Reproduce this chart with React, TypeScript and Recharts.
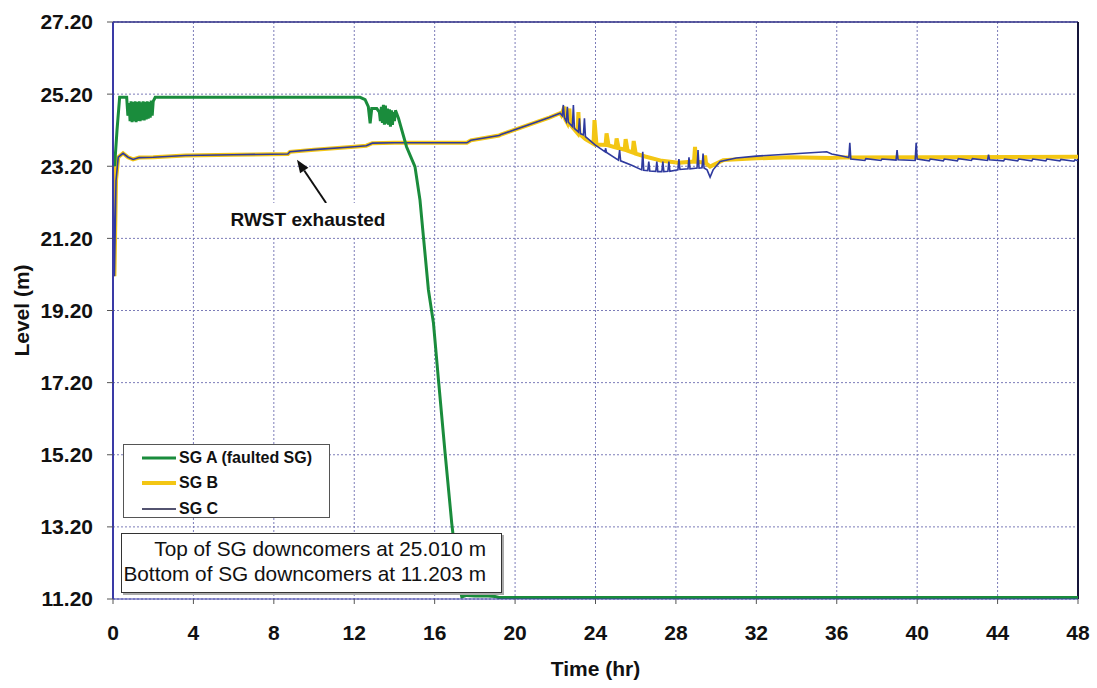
import React from 'react';
import {
  LineChart,
  Line,
  XAxis,
  YAxis,
  CartesianGrid,
  ReferenceLine,
  Legend,
  Label
} from 'recharts';

type Pt = [number, number]; // [time (hr), level (m)]

const timeTicks = [0, 4, 8, 12, 16, 20, 24, 28, 32, 36, 40, 44, 48];
const levelTicks = [11.2, 13.2, 15.2, 17.2, 19.2, 21.2, 23.2, 25.2, 27.2];

// SG A - faulted generator, boils dry after ~14 hr
const sgA: Pt[] = [
  [0, 23.55], [0.08, 23.2], [0.2, 24.2], [0.33, 25.11], [0.68, 25.11], [0.74, 24.6],
  [0.8, 24.95], [0.85, 24.45], [0.9, 25.0], [0.95, 24.42], [1.0, 24.98], [1.05, 24.45],
  [1.1, 25.0], [1.15, 24.42], [1.2, 24.98], [1.25, 24.46], [1.3, 25.0], [1.35, 24.45],
  [1.4, 24.97], [1.45, 24.48], [1.5, 25.0], [1.55, 24.47], [1.6, 24.98], [1.65, 24.5],
  [1.7, 25.0], [1.75, 24.52], [1.8, 24.98], [1.85, 24.55], [1.9, 25.02], [1.95, 24.6],
  [2.0, 25.0], [2.1, 25.11], [12.29, 25.11], [12.54, 25.05], [12.7, 24.85], [12.79, 24.39],
  [12.87, 24.8], [13.12, 24.8], [13.25, 24.7], [13.3, 24.45], [13.35, 24.85], [13.4, 24.4],
  [13.45, 24.9], [13.5, 24.35], [13.55, 24.88], [13.6, 24.38], [13.65, 24.8], [13.7, 24.35],
  [13.75, 24.78], [13.8, 24.3], [13.85, 24.75], [13.9, 24.35], [13.95, 24.7], [14.0, 24.45],
  [14.05, 24.75], [14.2, 24.53], [14.6, 23.74], [15.02, 23.19], [15.27, 22.26], [15.44, 21.25],
  [15.69, 19.77], [15.94, 18.85], [16.19, 17.27], [16.52, 15.24], [16.85, 13.3], [17.18, 11.68],
  [17.35, 11.26], [17.6, 11.3], [18.0, 11.28], [18.5, 11.29], [19.0, 11.27], [19.2, 11.24],
  [48, 11.24]
];

// SG B and SG C track together until the level swing at ~22 hr
const sgStartup: Pt[] = [
  [0, 23.6], [0.07, 20.15], [0.15, 22.8], [0.26, 23.45], [0.5, 23.56], [0.75, 23.45],
  [1.0, 23.39], [1.3, 23.44], [2.0, 23.45], [3.6, 23.5], [6.0, 23.52], [8.7, 23.54],
  [8.8, 23.6], [10.0, 23.66], [12.0, 23.74], [12.6, 23.77], [12.9, 23.84], [14.0, 23.85],
  [17.6, 23.85], [17.8, 23.92], [19.2, 24.05], [19.3, 24.08], [21.7, 24.55], [22.24, 24.67]
];

const sgBTail: Pt[] = [
  [22.3, 24.62], [22.45, 24.85], [22.5, 24.5], [22.6, 24.4], [22.7, 24.8], [22.75, 24.35],
  [23.1, 24.12], [23.15, 24.7], [23.2, 24.1], [23.5, 23.95], [23.9, 23.82], [23.95, 24.48],
  [24.05, 23.8], [24.5, 23.79], [24.55, 24.11], [24.65, 23.78], [25.0, 23.72], [25.05, 23.97],
  [25.15, 23.7], [25.45, 23.66], [25.5, 23.95], [25.6, 23.63], [25.85, 23.58], [25.9, 23.9],
  [26.0, 23.55], [26.47, 23.47], [27.3, 23.35], [28.13, 23.3], [28.9, 23.33], [28.95, 23.74],
  [29.0, 23.33], [29.4, 23.3], [29.45, 23.5], [29.5, 23.28], [29.7, 23.19], [30.35, 23.37],
  [32.0, 23.42], [33.7, 23.45], [35.7, 23.43], [36.2, 23.44], [48, 23.46]
];

const sgCTail: Pt[] = [
  [22.35, 24.6], [22.4, 24.9], [22.45, 24.55], [22.55, 24.44], [22.6, 24.85], [22.65, 24.42],
  [22.85, 24.3], [22.9, 24.9], [22.95, 24.25], [23.15, 24.15], [23.2, 24.53], [23.25, 24.1],
  [23.4, 24.07], [23.45, 24.53], [23.5, 24.02], [23.98, 23.79], [24.48, 23.6], [24.5, 23.7],
  [24.55, 23.58], [25.14, 23.37], [25.2, 23.65], [25.25, 23.35], [25.8, 23.23], [26.3, 23.1],
  [26.35, 23.6], [26.4, 23.09], [26.6, 23.08], [26.65, 23.33], [26.7, 23.07], [27.0, 23.06],
  [27.05, 23.33], [27.1, 23.05], [27.3, 23.05], [27.35, 23.33], [27.4, 23.05], [27.6, 23.06],
  [27.65, 23.33], [27.7, 23.06], [28.1, 23.1], [28.15, 23.4], [28.2, 23.11], [28.6, 23.13],
  [28.65, 23.45], [28.7, 23.13], [29.05, 23.15], [29.1, 23.65], [29.15, 23.15], [29.3, 23.16],
  [29.35, 23.55], [29.4, 23.15], [29.55, 23.1], [29.7, 22.9], [29.85, 23.1], [30.2, 23.33],
  [31.0, 23.43], [32.0, 23.48], [33.7, 23.54], [35.5, 23.6], [35.75, 23.54], [36.2, 23.49],
  [36.6, 23.44], [36.65, 23.85], [36.7, 23.4], [37.4, 23.36], [37.45, 23.41], [38.2, 23.36],
  [38.25, 23.4], [38.95, 23.37], [39.0, 23.65], [39.05, 23.38], [39.9, 23.36], [39.95, 23.85],
  [40.0, 23.4], [40.6, 23.35], [40.65, 23.4], [41.3, 23.35], [41.35, 23.4], [42.0, 23.35],
  [42.05, 23.41], [42.7, 23.36], [42.75, 23.41], [43.5, 23.36], [43.55, 23.52], [43.6, 23.38],
  [44.3, 23.35], [44.35, 23.4], [45.0, 23.35], [45.05, 23.4], [45.7, 23.35], [45.75, 23.4],
  [46.4, 23.35], [46.45, 23.4], [47.1, 23.35], [47.15, 23.39], [47.8, 23.34], [47.85, 23.38],
  [48, 23.35]
];

// RWST exhausted arrow: tail, head
const rwstArrow = [
  { x: 10.6, y: 22.18 },
  { x: 9.15, y: 23.38 }
];

const toRows = (pts: Pt[]) => pts.map(([t, level]) => ({ t, level }));

const FONT = 'Arial, "Liberation Sans", sans-serif';

const ArrowShape = (props: any) => {
  const { x1, y1, x2, y2 } = props;
  const a = Math.atan2(y2 - y1, x2 - x1);
  const len = 13;
  const half = 5;
  const bx = x2 - len * Math.cos(a);
  const by = y2 - len * Math.sin(a);
  const pts = [
    `${x2},${y2}`,
    `${bx + half * Math.sin(a)},${by - half * Math.cos(a)}`,
    `${bx - half * Math.sin(a)},${by + half * Math.cos(a)}`
  ].join(' ');
  return (
    <g>
      <line x1={x1} y1={y1} x2={bx} y2={by} stroke="#111" strokeWidth={2} />
      <polygon points={pts} fill="#111" />
    </g>
  );
};

const renderLegend = (props: any) => {
  const items = [...(props.payload || [])].sort((a: any, b: any) =>
    String(a.value).localeCompare(String(b.value))
  );
  return (
    <div
      style={{
        width: 207,
        height: 74,
        border: '1px solid #555',
        background: '#fff',
        boxSizing: 'border-box',
        paddingTop: 0,
        fontFamily: FONT
      }}
    >
      {items.map((it: any) => (
        <div key={it.value} style={{ display: 'flex', alignItems: 'center', height: 25.5 }}>
          <svg width={55} height={10} style={{ flexShrink: 0 }}>
            <line
              x1={18}
              y1={5}
              x2={52}
              y2={5}
              stroke={it.value === 'SG C' ? '#1a1a40' : it.color}
              strokeWidth={it.value === 'SG C' ? 1.5 : it.value === 'SG B' ? 4 : 3}
            />
          </svg>
          <span style={{ fontWeight: 'bold', fontSize: 16, color: '#111' }}>{it.value}</span>
        </div>
      ))}
    </div>
  );
};

const App: React.FC = () => {
  const dataA = toRows(sgA);
  const dataB = toRows([...sgStartup, ...sgBTail]);
  const dataC = toRows([...sgStartup, ...sgCTail]);

  const tickStyle = { fontSize: 21, fontWeight: 'bold', fill: '#111', fontFamily: FONT };

  return (
    <div
      style={{
        position: 'absolute',
        left: 0,
        top: 0,
        width: 1097,
        height: 688,
        background: '#fff',
        fontFamily: FONT
      }}
    >
      <LineChart width={1097} height={688} margin={{ top: 22, right: 19, bottom: 0, left: 0 }}>
        <CartesianGrid stroke="#7c7cb8" strokeDasharray="2 2" strokeWidth={1} />
        <XAxis
          dataKey="t"
          type="number"
          domain={[0, 48]}
          ticks={timeTicks}
          allowDataOverflow
          height={89}
          tick={tickStyle}
          tickSize={5}
          tickMargin={21}
          axisLine={{ stroke: '#3a3aa6', strokeWidth: 1.2 }}
          tickLine={{ stroke: '#555' }}
        >
          <Label
            content={(p: any) => (
              <text
                x={p.viewBox.x + p.viewBox.width / 2}
                y={p.viewBox.y + 77}
                textAnchor="middle"
                style={{ fontSize: 21, fontWeight: 'bold', fill: '#111', fontFamily: FONT }}
              >
                Time (hr)
              </text>
            )}
          />
        </XAxis>
        <YAxis
          type="number"
          domain={[11.2, 27.2]}
          ticks={levelTicks}
          allowDataOverflow
          width={113}
          tick={tickStyle}
          tickSize={6}
          tickMargin={14}
          tickFormatter={(v: number) => v.toFixed(2)}
          axisLine={{ stroke: '#3a3aa6', strokeWidth: 2 }}
          tickLine={{ stroke: '#555' }}
        >
          <Label
            content={(p: any) => {
              const cx = p.viewBox.x + 29;
              const cy = p.viewBox.y + p.viewBox.height / 2;
              return (
                <text
                  x={cx}
                  y={cy}
                  transform={`rotate(-90 ${cx} ${cy})`}
                  textAnchor="middle"
                  style={{ fontSize: 21, fontWeight: 'bold', fill: '#111', fontFamily: FONT }}
                >
                  Level (m)
                </text>
              );
            }}
          />
        </YAxis>

        <ReferenceLine y={27.2} stroke="#2e2e86" strokeWidth={1.5} />
        <ReferenceLine x={48} stroke="#15153a" strokeWidth={2} />

        <Line
          data={dataB}
          dataKey="level"
          name="SG B"
          type="linear"
          stroke="#f3c614"
          strokeWidth={4}
          dot={false}
          isAnimationActive={false}
        />
        <Line
          data={dataC}
          dataKey="level"
          name="SG C"
          type="linear"
          stroke="#2f3a9e"
          strokeWidth={1.6}
          dot={false}
          isAnimationActive={false}
        />
        <Line
          data={dataA}
          dataKey="level"
          name="SG A (faulted SG)"
          type="linear"
          stroke="#1a8c3c"
          strokeWidth={3}
          dot={false}
          isAnimationActive={false}
        />

        <ReferenceLine segment={rwstArrow} shape={ArrowShape} ifOverflow="visible" />

        <Legend
          layout="vertical"
          align="center"
          verticalAlign="middle"
          content={renderLegend}
          wrapperStyle={{ left: 123, top: 444, width: 207, height: 74 }}
        />
      </LineChart>

      <div
        style={{
          position: 'absolute',
          left: 212,
          top: 203,
          width: 192,
          height: 33,
          background: '#fff',
          textAlign: 'center',
          lineHeight: '33px',
          fontSize: 19,
          fontWeight: 'bold',
          color: '#111'
        }}
      >
        RWST exhausted
      </div>

      <div
        style={{
          position: 'absolute',
          left: 121,
          top: 533,
          width: 381,
          height: 60,
          boxSizing: 'border-box',
          border: '1.5px solid #333',
          boxShadow: '2px 2px 0 #aaa',
          background: '#fff',
          textAlign: 'right',
          paddingRight: 15,
          paddingTop: 2,
          fontSize: 20.8,
          lineHeight: '25px',
          color: '#111'
        }}
      >
        <div>Top of SG downcomers at 25.010 m</div>
        <div>Bottom of SG downcomers at 11.203 m</div>
      </div>
    </div>
  );
};

export default App;
